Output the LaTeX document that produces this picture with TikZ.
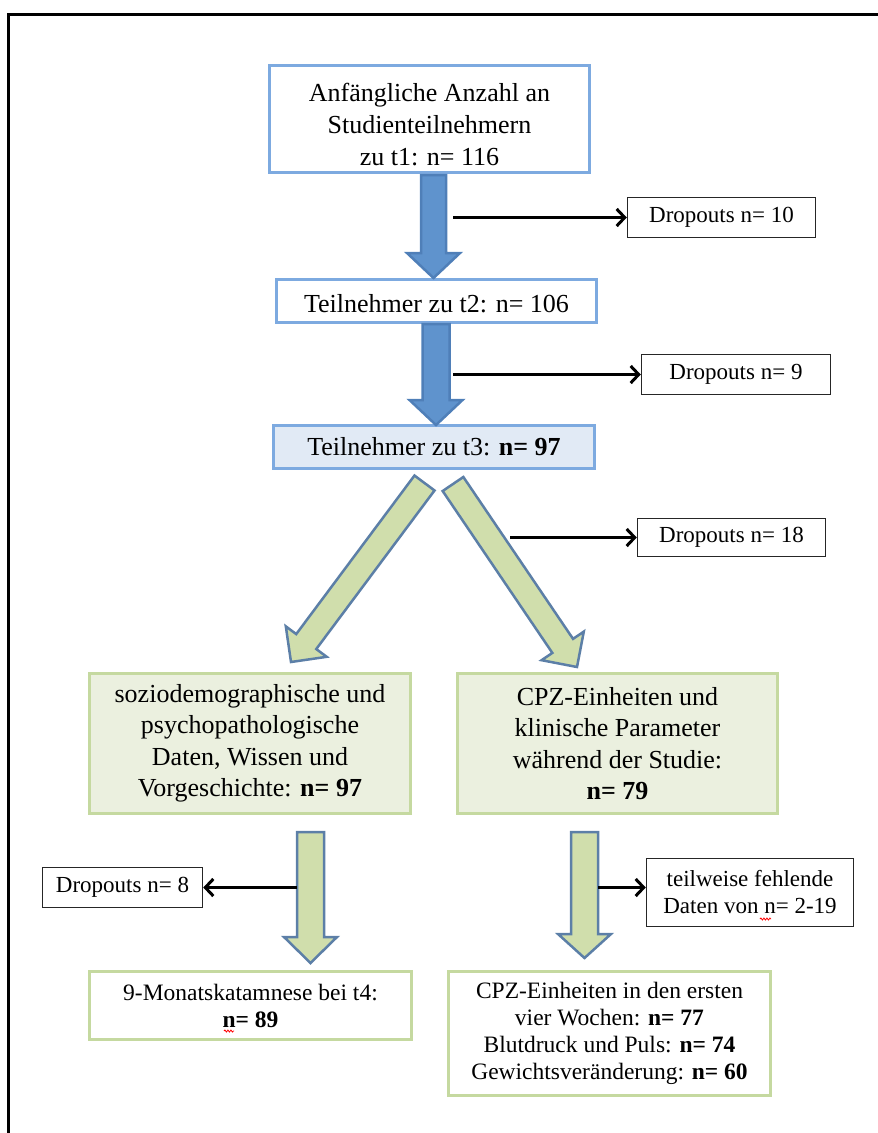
\documentclass[tikz,border=0pt]{standalone}
\usepackage{fontspec}
\setmainfont{Liberation Serif}
\usetikzlibrary{arrows.meta, calc, decorations.pathmorphing}
\definecolor{boxBlue}{RGB}{125,170,224}
\definecolor{fillBlue}{RGB}{225,234,245}
\definecolor{arrBlue}{RGB}{95,147,205}
\definecolor{arrBlueDark}{RGB}{79,127,184}
\definecolor{arrGreen}{RGB}{208,222,172}
\definecolor{arrEdge}{RGB}{92,127,167}
\definecolor{boxGreen}{RGB}{197,217,160}
\definecolor{fillGreen}{RGB}{235,240,223}
\tikzset{
  stage/.style={draw=boxBlue, line width=3pt, fill=white, align=center,
                inner sep=0pt, font=\fontsize{26}{32}\selectfont},
  stagefill/.style={stage, fill=fillBlue},
  branch/.style={draw=boxGreen, line width=3pt, fill=fillGreen, align=center,
                 inner sep=0pt, font=\fontsize{26}{31.5}\selectfont},
  result/.style={branch, fill=white, font=\fontsize{23.5}{27}\selectfont},
  loss/.style={draw=black!85, line width=1.5pt, fill=white, align=center,
               inner sep=0pt, font=\fontsize{23}{27}\selectfont},
  lossline/.style={line width=3pt,
                   -{Straight Barb[length=8pt, width=17pt, line width=3pt]}},
  bluearrow/.style={fill=arrBlue, draw=arrBlueDark, line width=2.5pt},
  greenarrow/.style={fill=arrGreen, draw=arrEdge, line width=2.5pt},
  squiggle/.style={red, line width=0.8pt,
                   decorate, decoration={snake, amplitude=1pt, segment length=3pt}},
}
% block arrow: style, tail, tip, shaft half width, head half width, head length
\newcommand{\blockarrow}[6]{%
  \coordinate (hb) at ($(#3)!#6!(#2)$);
  \draw[#1] ($(#2)!#4!90:(#3)$) -- ($(hb)!#4!90:(#3)$) -- ($(hb)!#5!90:(#3)$)
    -- (#3) -- ($(hb)!#5!-90:(#3)$) -- ($(hb)!#4!-90:(#3)$)
    -- ($(#2)!#4!-90:(#3)$) -- cycle;
}

\begin{document}
\begin{tikzpicture}[x=1pt, y=-1pt]
  \useasboundingbox (0,0) rectangle (878,1133);
  % frame
  \draw[line width=3pt] (8,1133) -- (8,14) -- (878,14);

  % stages
  \node[stage, minimum width=320pt, minimum height=107pt] (t1) at (429.5,119)
    {\rule{0pt}{30pt}Anfängliche Anzahl an\\Studienteilnehmern\\zu t1: n= 116};
  \node[stage, minimum width=320pt, minimum height=43pt] (t2) at (436.5,301)
    {\rule{0pt}{24pt}Teilnehmer zu t2: n= 106};
  \node[stagefill, minimum width=321pt, minimum height=43pt] (t3) at (434,447)
    {Teilnehmer zu t3: \textbf{n= 97}};

  % branches
  \node[branch, minimum width=321pt, minimum height=140pt] (soz) at (250,743.5)
    {soziodemographische und\\psychopathologische\\Daten, Wissen und\\
     Vorgeschichte: \textbf{n= 97}};
  \node[branch, minimum width=320pt, minimum height=140pt] (cpz) at (617.5,743.5)
    {CPZ-Einheiten und\\klinische Parameter\\während der Studie:\\\textbf{n= 79}};

  % results
  \node[result, minimum width=322pt, minimum height=68pt] (kat) at (250.5,1005.5)
    {9-Monatskatamnese bei t4:\\\textbf{n= 89}};
  \node[result, minimum width=322pt, minimum height=124pt] (cpzb) at (609.5,1033.5)
    {CPZ-Einheiten in den ersten\\vier Wochen: \textbf{n= 77}\\
     Blutdruck und Puls: \textbf{n= 74}\\Gewichtsveränderung: \textbf{n= 60}};

  % dropouts
  \node[loss, minimum width=188pt, minimum height=40pt] (d1) at (721.5,217.5)
    {Dropouts n= 10};
  \node[loss, minimum width=189pt, minimum height=40pt] (d2) at (736,374.5)
    {Dropouts n= 9};
  \node[loss, minimum width=188pt, minimum height=38pt] (d3) at (731.5,537.5)
    {Dropouts n= 18};
  \node[loss, minimum width=160pt, minimum height=40pt] (d4) at (122.5,887.5)
    {Dropouts n= 8};
  \node[loss, minimum width=207pt, minimum height=68pt] (miss) at (750,892.5)
    {teilweise fehlende\\Daten von n= 2-19};

  % big arrows
  \coordinate (a1s) at (433.5,175);  \coordinate (a1e) at (433.5,278);
  \coordinate (a2s) at (436,324);    \coordinate (a2e) at (436,425);
  \coordinate (a3s) at (424.5,483);  \coordinate (a3e) at (291,662);
  \coordinate (a4s) at (453,484);    \coordinate (a4e) at (577,667);
  \coordinate (a5s) at (310.5,832);  \coordinate (a5e) at (310.5,963);
  \coordinate (a6s) at (584.5,832);  \coordinate (a6e) at (584.5,958);
  \blockarrow{bluearrow}{a1s}{a1e}{12.5pt}{26.5pt}{25pt}
  \blockarrow{bluearrow}{a2s}{a2e}{13.5pt}{26.5pt}{25pt}
  \blockarrow{greenarrow}{a3s}{a3e}{12.5pt}{25.5pt}{25.5pt}
  \blockarrow{greenarrow}{a4s}{a4e}{12.5pt}{25.5pt}{25.5pt}
  \blockarrow{greenarrow}{a5s}{a5e}{13.5pt}{26.5pt}{26pt}
  \blockarrow{greenarrow}{a6s}{a6e}{13.5pt}{26.5pt}{24pt}

  % dropout connectors
  \coordinate (s1) at (453,217.5);
  \coordinate (s2) at (453,374.5);
  \coordinate (s3) at (510,537.5);
  \coordinate (s4) at (297,887.5);
  \coordinate (s5) at (598,887.5);
  \draw[lossline] (s1) -- (d1.west);
  \draw[lossline] (s2) -- (d2.west);
  \draw[lossline] (s3) -- (d3.west);
  \draw[lossline] (s4) -- (d4.east);
  \draw[lossline] (s5) -- (s5 -| miss.west);

  % spell-check marks
  \draw[squiggle] (224,1031) -- (234,1031);
  \draw[squiggle] (760,919) -- (771,919);
\end{tikzpicture}
\end{document}
